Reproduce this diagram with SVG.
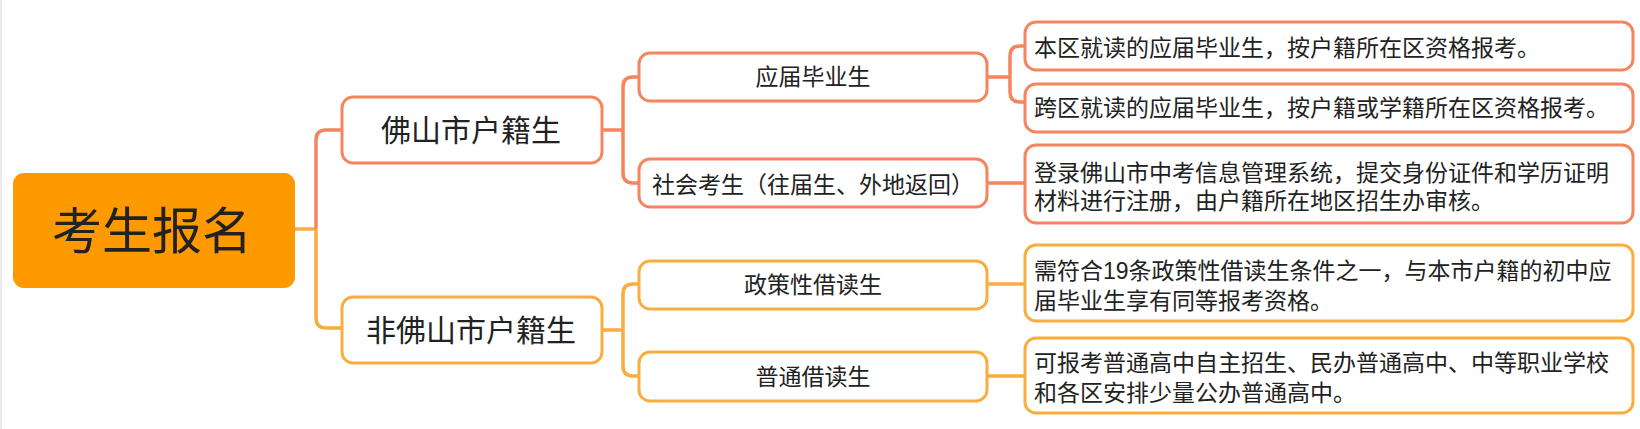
<svg xmlns="http://www.w3.org/2000/svg" width="1640" height="429" viewBox="0 0 1640 429">
  <style>
    text { font-family: "Liberation Sans", "Noto Sans CJK SC", sans-serif; fill: #222; }
    .root { font-size: 50px; text-anchor: middle; }
    .l1 { font-size: 30px; text-anchor: middle; }
    .l2 { font-size: 23px; text-anchor: middle; }
    .leaf { font-size: 23px; text-anchor: start; }
    .boxR { fill: #fff; stroke: #F5845F; stroke-width: 3; }
    .boxY { fill: #fff; stroke: #F9AD3E; stroke-width: 3; }
    .cR { fill: none; stroke: #F5845F; stroke-width: 3.5; stroke-linejoin: round; }
    .cY { fill: none; stroke: #F9AD3E; stroke-width: 3.5; stroke-linejoin: round; }
  </style>
  <rect x="0" y="0" width="1640" height="429" fill="#fff"/>
  <line x1="1" y1="0" x2="1" y2="429" stroke="#e4e4e4" stroke-width="1.5"/>

  <g id="connectors">
    <path class="cY" d="M295 229 H316"/>
    <path class="cR" d="M316 229 V140 Q316 130 326 130 H342"/>
    <path class="cY" d="M316 229 V318 Q316 328 326 328 H342"/>
    <path class="cR" d="M602 130 H623"/>
    <path class="cR" d="M623 130 V87 Q623 77 633 77 H639"/>
    <path class="cR" d="M623 130 V173 Q623 183 633 183 H639"/>
    <path class="cY" d="M602 330 H623"/>
    <path class="cY" d="M623 330 V294 Q623 284 633 284 H639"/>
    <path class="cY" d="M623 330 V366 Q623 376 633 376 H639"/>
    <path class="cR" d="M987 77 H1010"/>
    <path class="cR" d="M1010 77 V56 Q1010 46 1020 46 H1025"/>
    <path class="cR" d="M1010 77 V92 Q1010 102 1020 102 H1025"/>
    <path class="cR" d="M987 183 H1025"/>
    <path class="cY" d="M987 284 H1025"/>
    <path class="cY" d="M987 376 H1025"/>
  </g>

  <g id="root">
    <rect x="13" y="173" width="282" height="115" rx="11" fill="#FF9900"/>
    <text class="root" x="152" y="249">考生报名</text>
  </g>

  <g id="n-foshan">
    <rect class="boxR" x="342" y="97" width="260" height="66" rx="11"/>
    <text class="l1" x="471" y="140.5">佛山市户籍生</text>
  </g>
  <g id="n-nonfoshan">
    <rect class="boxY" x="342" y="297" width="260" height="66" rx="11"/>
    <text class="l1" x="471" y="341">非佛山市户籍生</text>
  </g>

  <g id="n-graduates">
    <rect class="boxR" x="639" y="53" width="348" height="48" rx="11"/>
    <text class="l2" x="813" y="85.3">应届毕业生</text>
  </g>
  <g id="n-social">
    <rect class="boxR" x="639" y="159" width="348" height="48" rx="11"/>
    <text class="l2" x="813" y="193">社会考生（往届生、外地返回）</text>
  </g>
  <g id="n-policy">
    <rect class="boxY" x="639" y="261" width="348" height="48" rx="11"/>
    <text class="l2" x="813" y="293.3">政策性借读生</text>
  </g>
  <g id="n-ordinary">
    <rect class="boxY" x="639" y="352" width="348" height="49" rx="11"/>
    <text class="l2" x="813" y="385">普通借读生</text>
  </g>

  <g id="leaf-local">
    <rect class="boxR" x="1025" y="22" width="608" height="48" rx="11"/>
    <text class="leaf" x="1034" y="55.5">本区就读的应届毕业生，按户籍所在区资格报考。</text>
  </g>
  <g id="leaf-cross">
    <rect class="boxR" x="1025" y="84" width="608" height="48" rx="11"/>
    <text class="leaf" x="1034" y="116.3">跨区就读的应届毕业生，按户籍或学籍所在区资格报考。</text>
  </g>
  <g id="leaf-social">
    <rect class="boxR" x="1025" y="145" width="608" height="78" rx="11"/>
    <text class="leaf"><tspan x="1034" y="180.5">登录佛山市中考信息管理系统，提交身份证件和学历证明</tspan><tspan x="1034" y="209">材料进行注册，由户籍所在地区招生办审核。</tspan></text>
  </g>
  <g id="leaf-policy">
    <rect class="boxY" x="1025" y="245" width="608" height="76" rx="11"/>
    <text class="leaf"><tspan x="1034" y="279">需符合19条政策性借读生条件之一，与本市户籍的初中应</tspan><tspan x="1034" y="308.5">届毕业生享有同等报考资格。</tspan></text>
  </g>
  <g id="leaf-ordinary">
    <rect class="boxY" x="1025" y="338" width="608" height="75" rx="11"/>
    <text class="leaf"><tspan x="1034" y="370.5">可报考普通高中自主招生、民办普通高中、中等职业学校</tspan><tspan x="1034" y="400.5">和各区安排少量公办普通高中。</tspan></text>
  </g>
</svg>
